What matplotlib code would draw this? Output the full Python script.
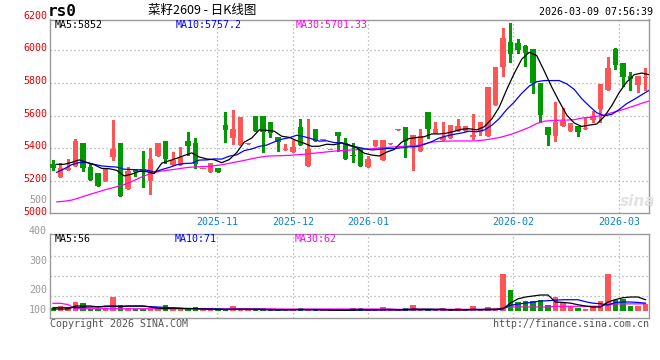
import numpy as np
import matplotlib
matplotlib.use('Agg')
import matplotlib.pyplot as plt
import matplotlib.transforms as mtransforms

# ---------- data ----------
opens = [5304, 5227, 5269, 5294, 5433, 5288, 5249, 5202, 5349, 5433,
         5153, 5273, 5273, 5202, 5355, 5445, 5298, 5298, 5445, 5430,
         5271, 5257, 5278, 5543, 5465, 5418, 5429, 5600, 5600, 5561,
         5467, 5392, 5380, 5531, 5294, 5518, 5453, 5388, 5498, 5430,
         5358, 5400, 5288, 5416, 5329, 5429, 5514, 5531, 5410, 5386,
         5621, 5496, 5451, 5461, 5506, 5506, 5472, 5502, 5478, 5666,
         5900, 6051, 6043, 6027, 6008, 5802, 5533, 5478, 5539, 5506,
         5537, 5516, 5574, 5641, 5757, 6006, 5920, 5843, 5788, 5833]
closes = [5282, 5278, 5282, 5445, 5282, 5206, 5171, 5271, 5396, 5110,
          5261, 5257, 5261, 5335, 5433, 5335, 5331, 5347, 5416, 5304,
          5275, 5308, 5257, 5512, 5518, 5594, 5433, 5506, 5498, 5492,
          5441, 5396, 5408, 5420, 5396, 5445, 5457, 5392, 5478, 5335,
          5352, 5294, 5335, 5451, 5451, 5433, 5518, 5445, 5482, 5475,
          5519, 5519, 5468, 5541, 5537, 5537, 5482, 5563, 5778, 5900,
          6076, 5976, 6002, 5986, 5802, 5604, 5482, 5563, 5567, 5557,
          5502, 5520, 5598, 5794, 5890, 5910, 5839, 5823, 5845, 5837]
highs = [5329, 5308, 5333, 5457, 5433, 5312, 5249, 5271, 5574, 5433,
         5288, 5273, 5384, 5404, 5433, 5445, 5376, 5406, 5498, 5465,
         5275, 5308, 5278, 5620, 5635, 5594, 5433, 5600, 5600, 5561,
         5467, 5427, 5451, 5580, 5580, 5518, 5457, 5392, 5498, 5465,
         5431, 5400, 5355, 5451, 5451, 5433, 5518, 5531, 5482, 5518,
         5621, 5563, 5559, 5541, 5580, 5537, 5608, 5563, 5778, 5900,
         6139, 6166, 6070, 6033, 6008, 5802, 5533, 5686, 5645, 5557,
         5537, 5594, 5631, 5794, 5961, 6012, 5920, 5870, 5845, 5890]
lows = [5267, 5227, 5269, 5294, 5263, 5206, 5171, 5202, 5329, 5110,
        5153, 5233, 5165, 5122, 5355, 5308, 5298, 5298, 5359, 5278,
        5271, 5257, 5257, 5441, 5425, 5418, 5429, 5506, 5380, 5471,
        5386, 5392, 5380, 5420, 5294, 5445, 5453, 5388, 5386, 5335,
        5318, 5294, 5288, 5416, 5329, 5429, 5514, 5349, 5267, 5386,
        5461, 5496, 5451, 5461, 5506, 5506, 5457, 5482, 5478, 5666,
        5840, 5931, 5982, 5906, 5737, 5563, 5421, 5445, 5539, 5506,
        5476, 5516, 5563, 5563, 5757, 5884, 5782, 5757, 5747, 5757]
ma5 = [5302, 5302, 5314, 5329, 5314, 5299, 5277, 5275, 5265, 5231,
       5242, 5259, 5257, 5245, 5309, 5324, 5339, 5356, 5372, 5347,
       5335, 5330, 5312, 5331, 5374, 5438, 5463, 5513, 5510, 5505,
       5474, 5467, 5447, 5431, 5412, 5413, 5425, 5422, 5434, 5421,
       5403, 5370, 5359, 5353, 5377, 5393, 5438, 5460, 5466, 5471,
       5488, 5488, 5493, 5504, 5517, 5520, 5513, 5532, 5579, 5652,
       5760, 5859, 5946, 5988, 5968, 5874, 5775, 5687, 5604, 5555,
       5534, 5542, 5549, 5594, 5661, 5742, 5806, 5851, 5861, 5851]
ma10 = [5253, 5275, 5300, 5313, 5313, 5302, 5292, 5288, 5285, 5272,
        5270, 5268, 5266, 5255, 5270, 5283, 5299, 5307, 5309, 5328,
        5329, 5335, 5334, 5352, 5360, 5386, 5396, 5412, 5420, 5439,
        5456, 5465, 5480, 5471, 5458, 5444, 5446, 5435, 5433, 5417,
        5408, 5398, 5390, 5394, 5399, 5398, 5404, 5409, 5410, 5424,
        5441, 5463, 5476, 5486, 5494, 5505, 5501, 5512, 5541, 5582,
        5638, 5683, 5737, 5781, 5808, 5815, 5815, 5815, 5795, 5761,
        5704, 5659, 5618, 5599, 5608, 5638, 5674, 5700, 5728, 5756]
ma30 = [5072, 5076, 5083, 5097, 5112, 5126, 5140, 5153, 5165, 5178,
        5196, 5218, 5237, 5252, 5261, 5267, 5273, 5280, 5285, 5287,
        5289, 5293, 5299, 5308, 5317, 5326, 5336, 5345, 5352, 5354,
        5355, 5357, 5360, 5364, 5369, 5373, 5378, 5383, 5386, 5389,
        5391, 5395, 5397, 5402, 5405, 5409, 5411, 5414, 5417, 5427,
        5438, 5442, 5444, 5445, 5445, 5445, 5446, 5451, 5458, 5466,
        5478, 5492, 5510, 5528, 5552, 5566, 5570, 5572, 5573, 5575,
        5585, 5590, 5596, 5605, 5618, 5630, 5645, 5660, 5676, 5690]

volumes = [19, 35, 21, 63, 56, 14, 14, 23, 100, 42,
           23, 14, 14, 14, 14, 42, 14, 14, 12, 28,
           7, 10, 7, 7, 35, 10, 7, 10, 10, 7,
           7, 12, 12, 21, 8, 5, 8, 5, 5, 10,
           19, 19, 4, 4, 26, 4, 6, 19, 40, 4,
           4, 4, 19, 4, 19, 4, 33, 4, 26, 19,
           257, 145, 63, 67, 67, 75, 40, 96, 56, 33,
           21, 12, 35, 68, 257, 75, 86, 35, 35, 51]
vol_ma5 = [14, 14, 14, 35, 35, 35, 28, 35, 35, 30,
           35, 35, 35, 28, 20, 16, 20, 18, 16, 16,
           14, 12, 12, 10, 12, 12, 12, 12, 12, 8,
           8, 8, 9, 10, 10, 10, 9, 7, 5, 5,
           6, 9, 9, 9, 11, 11, 9, 10, 14, 13,
           13, 12, 12, 7, 8, 8, 12, 10, 13, 12,
           14, 56, 85, 98, 105, 112, 112, 63, 60, 55,
           44, 35, 28, 28, 63, 80, 93, 98, 98, 79]
vol_ma10 = [24, 24, 24, 24, 26, 28, 30, 30, 33, 34,
            34, 34, 34, 30, 28, 25, 22, 20, 18, 17,
            15, 14, 13, 12, 12, 12, 11, 11, 10, 10,
            9, 9, 9, 9, 9, 8, 8, 7, 7, 7,
            7, 7, 7, 7, 7, 7, 7, 7, 8, 8,
            8, 8, 8, 8, 8, 8, 8, 8, 8, 9,
            20, 40, 49, 55, 62, 70, 72, 76, 79, 79,
            79, 65, 55, 51, 42, 60, 63, 63, 60, 55]
vol_ma30 = [54, 54, 45, 16, 16, 16, 16, 16, 16, 16,
            16, 16, 16, 16, 16, 16, 16, 16, 16, 16,
            16, 16, 16, 16, 16, 16, 16, 16, 16, 16,
            14, 14, 14, 14, 14, 14, 14, 14, 14, 14,
            14, 14, 14, 14, 14, 14, 12, 12, 12, 12,
            12, 12, 12, 12, 12, 12, 12, 12, 12, 12,
            20, 28, 28, 28, 28, 28, 28, 33, 33, 33,
            33, 33, 33, 33, 45, 50, 50, 50, 50, 50]

month_pos = [21.9, 32.0, 42.0, 61.4, 75.5]
month_labels = ['2025-11', '2025-12', '2026-01', '2026-02', '2026-03']
price_grid = [5200, 5400, 5600, 5800, 6000]
price_labels = [5000, 5200, 5400, 5600, 5800, 6000, 6200]

# ---------- colours ----------
RED = '#ff5555'
GREEN = '#009900'
GRID = '#aaaaaa'
MONO = 'DejaVu Sans Mono'

W, H = 660, 360
def fx(px):
    return px / W
def fy(py):
    return 1 - py / H

fig = plt.figure(figsize=(6.6, 3.6), dpi=100)
fig.patch.set_facecolor('white')

ax = fig.add_axes([fx(50), fy(213.3), fx(649) - fx(50), fy(19.5) - fy(213.3)])
axv = fig.add_axes([fx(50), fy(318.3), fx(649) - fx(50), fy(234.3) - fy(318.3)])

o = np.array(opens)
c = np.array(closes)
x = np.arange(len(o))
up = c >= o
cols = np.where(up, RED, GREEN)

for a in (ax, axv):
    for s in a.spines.values():
        s.set_color('#999999')
        s.set_linewidth(1.0)
    a.tick_params(left=False, bottom=False, labelleft=False, labelbottom=False)
    a.set_xlim(-0.4, 79.47)
    for m in month_pos:
        a.axvline(m, color=GRID, lw=0.9, ls=(0, (1, 2.2)), zorder=0)

# ---------- price panel ----------
ax.set_ylim(5002, 6189)
for p in price_grid:
    ax.axhline(p, color=GRID, lw=0.9, ls=(0, (1, 2.2)), zorder=0)

ax.vlines(x, lows, highs, colors=cols, lw=0.8, antialiased=False, zorder=2)
body = np.maximum(np.abs(c - o), 6)
ax.bar(x, body, bottom=np.minimum(o, c), width=0.78, color=cols,
       linewidth=0, antialiased=False, zorder=3)

ax.plot(x + 0.5, ma30, color='#ff00ff', lw=0.9, zorder=4)
ax.plot(x + 0.5, ma10, color='#0000ff', lw=0.9, zorder=4)
ax.plot(x + 0.5, ma5, color='#000000', lw=0.9, zorder=5)

lab_tr = mtransforms.blended_transform_factory(fig.transFigure, ax.transData) + \
    mtransforms.ScaledTranslation(0, 2 / 100, fig.dpi_scale_trans)
for p in price_labels:
    ax.text(fx(47), p, str(p), transform=lab_tr, ha='right', va='center',
            color='#e00000', fontsize=7.2, family=MONO, clip_on=False)
fig.text(fx(47), fy(200), '500', ha='right', va='center', color='#999999',
         fontsize=7.2, family=MONO)

month_tr = mtransforms.blended_transform_factory(ax.transData, fig.transFigure)
for m, lbl in zip(month_pos, month_labels):
    ax.text(m, fy(221.7), lbl, transform=month_tr, ha='center', va='center',
            color='#0a80d0', fontsize=7.2, family=MONO, clip_on=False)

fig.text(fx(55), fy(24.5), 'MA5:5852', color='#000000', fontsize=7.2, family=MONO, va='center')
fig.text(fx(175.5), fy(24.5), 'MA10:5757.2', color='#0000ff', fontsize=7.2, family=MONO, va='center')
fig.text(fx(296), fy(24.5), 'MA30:5701.33', color='#ff00ff', fontsize=7.2, family=MONO, va='center')

fig.text(fx(638), fy(202), 'sina', color='#e2e2e2', fontsize=11, style='italic',
         weight='bold', ha='center', va='center')

# ---------- volume panel ----------
axv.set_ylim(-51, 537)
for v in [108.5, 248.5, 387]:
    axv.axhline(v, color=GRID, lw=0.9, ls=(0, (1, 2.2)), zorder=0)
axv.bar(x, volumes, width=0.78, color=cols, linewidth=0, antialiased=False, zorder=2)
axv.plot(x, vol_ma30, color='#ff00ff', lw=0.9, zorder=3)
axv.plot(x, vol_ma10, color='#0000ff', lw=0.9, zorder=3)
axv.plot(x, vol_ma5, color='#000000', lw=0.9, zorder=4)

for lbl, py in zip(['400', '300', '200', '100'], [231, 261, 290, 310]):
    fig.text(fx(47), fy(py), lbl, ha='right', va='center', color='#999999',
             fontsize=7.2, family=MONO)

fig.text(fx(55), fy(238.7), 'MA5:56', color='#000000', fontsize=7.2, family=MONO, va='center')
fig.text(fx(175), fy(238.7), 'MA10:71', color='#0000ff', fontsize=7.2, family=MONO, va='center')
fig.text(fx(295), fy(238.7), 'MA30:62', color='#ff00ff', fontsize=7.2, family=MONO, va='center')

# ---------- header / footer ----------
fig.text(fx(48), fy(12), 'rs0', color='#000000', fontsize=11.5, weight='bold',
         family=MONO, va='center', ha='left')
fig.text(fx(202), fy(10), '菜籽2609 - 日K线图', color='#000000', fontsize=9,
         family=['Noto Sans CJK SC', 'DejaVu Sans'], va='center', ha='center')
fig.text(fx(653), fy(12), '2026-03-09 07:56:39', color='#000000', fontsize=7.2,
         family=MONO, va='center', ha='right')
fig.text(fx(50), fy(324), 'Copyright 2026 SINA.COM', color='#555555', fontsize=7.2,
         family=MONO, va='center', ha='left')
fig.text(fx(649), fy(324), 'http://finance.sina.com.cn', color='#555555', fontsize=7.2,
         family=MONO, va='center', ha='right')

fig.savefig('out.png', dpi=100)
